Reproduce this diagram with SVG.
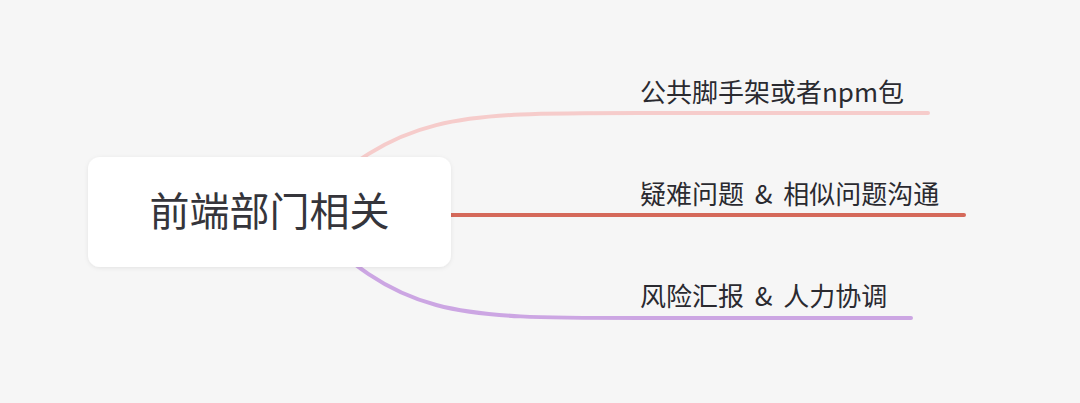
<svg xmlns="http://www.w3.org/2000/svg" width="1080" height="403" viewBox="0 0 1080 403">
<defs>
<filter id="sh" x="-10%" y="-20%" width="120%" height="140%">
<feDropShadow dx="0" dy="1" stdDeviation="2" flood-color="#000" flood-opacity="0.08"/>
</filter>
</defs>
<style>
.lbl{font-family:"Noto Sans CJK SC","Noto Sans",sans-serif;font-size:26px;fill:#2a2a30;word-spacing:5px}
.root{font-family:"Noto Sans CJK SC","Noto Sans",sans-serif;font-size:40px;fill:#35353b}
.edge{fill:none;stroke-width:4;stroke-linecap:round}
</style>
<rect width="1080" height="403" fill="#f6f6f6"/>
<g id="connectors">
<path class="edge" stroke="#f6cccb" d="M300 210 C400 113 450 113 640 113 L928 113"/>
<path class="edge" stroke="#d5695a" d="M440 215 L964 215"/>
<path class="edge" stroke="#cca6e3" d="M300 214 C400 318 450 318 640 318 L911 318"/>
</g>
<g id="root">
<rect x="88" y="157" width="363" height="110" rx="12" fill="#fff" filter="url(#sh)"/>
<text class="root" x="269.5" y="226" text-anchor="middle">前端部门相关</text>
</g>
<g id="n1"><text class="lbl" x="640" y="102">公共脚手架或者npm包</text></g>
<g id="n2"><text class="lbl" x="640" y="204">疑难问题 &amp; 相似问题沟通</text></g>
<g id="n3"><text class="lbl" x="640" y="306">风险汇报 &amp; 人力协调</text></g>
</svg>
